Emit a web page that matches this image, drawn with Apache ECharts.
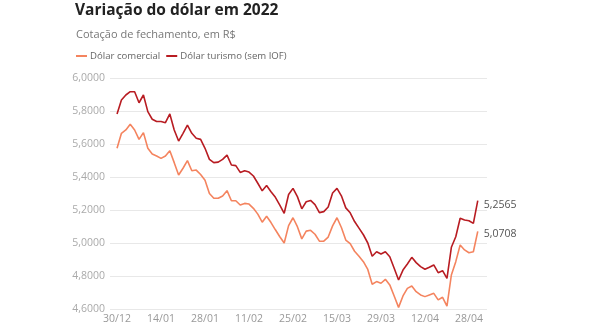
<!DOCTYPE html>
<html>
<head>
<meta charset="utf-8">
<script src="https://cdn.jsdelivr.net/npm/echarts@6/dist/echarts.min.js"></script>
<style>
html,body{margin:0;padding:0;background:#fff;}
#chart{width:590px;height:330px;}
</style>
</head>
<body>
<div id="chart"></div>
<script>
const dates = [
  '30/12',
  '03/01','04/01','05/01','06/01','07/01','10/01','11/01','12/01','13/01','14/01',
  '17/01','18/01','19/01','20/01','21/01','24/01','25/01','26/01','27/01','28/01',
  '31/01','01/02','02/02','03/02','04/02','07/02','08/02','09/02','10/02','11/02',
  '14/02','15/02','16/02','17/02','18/02','21/02','22/02','23/02','24/02','25/02',
  '02/03','03/03','04/03','07/03','08/03','09/03','10/03','11/03','14/03','15/03',
  '16/03','17/03','18/03','21/03','22/03','23/03','24/03','25/03','28/03','29/03',
  '30/03','31/03','01/04','04/04','05/04','06/04','07/04','08/04','11/04','12/04',
  '13/04','14/04','18/04','19/04','20/04','22/04','25/04','26/04','27/04','28/04',
  '29/04','02/05'
];
const tickLabels = ['30/12','14/01','28/01','11/02','25/02','15/03','29/03','12/04','28/04'];

const comercial = [
  5.574,
  5.665,5.685,5.719,5.685,5.628,5.669,5.574,5.539,5.527,5.513,
  5.527,5.559,5.487,5.412,5.453,5.499,5.438,5.442,5.415,5.380,
  5.300,5.271,5.271,5.285,5.317,5.256,5.256,5.230,5.240,5.236,
  5.210,5.175,5.126,5.162,5.124,5.080,5.038,5.000,5.105,5.153,
  5.099,5.025,5.072,5.077,5.053,5.011,5.011,5.036,5.104,5.153,
  5.094,5.018,4.996,4.950,4.920,4.887,4.840,4.750,4.766,4.756,
  4.780,4.746,4.679,4.610,4.679,4.725,4.739,4.705,4.685,4.675,
  4.685,4.695,4.655,4.671,4.618,4.806,4.887,4.988,4.958,4.941,
  4.947,5.0708
];
const turismo = [
  5.782,
  5.867,5.897,5.917,5.917,5.850,5.897,5.796,5.750,5.736,5.736,
  5.729,5.782,5.685,5.618,5.665,5.715,5.665,5.635,5.628,5.574,
  5.507,5.487,5.490,5.507,5.533,5.473,5.469,5.428,5.438,5.430,
  5.406,5.362,5.316,5.348,5.311,5.277,5.230,5.180,5.294,5.331,
  5.281,5.207,5.250,5.258,5.233,5.184,5.190,5.218,5.303,5.331,
  5.286,5.213,5.183,5.130,5.090,5.050,5.000,4.920,4.947,4.933,
  4.947,4.917,4.847,4.776,4.836,4.873,4.913,4.881,4.857,4.841,
  4.853,4.867,4.820,4.832,4.786,4.974,5.038,5.150,5.139,5.135,
  5.119,5.2565
];

const FONT = '"Open Sans", sans-serif';
const fmt = v => v.toFixed(4).replace('.', ',');
const tickIdx = tickLabels.map(t => dates.indexOf(t));

const chart = echarts.init(document.getElementById('chart'), null, {renderer: 'canvas'});
chart.setOption({
  animation: false,
  backgroundColor: '#fff',
  title: [
    {text: 'Variação do dólar em 2022', left: 75, top: 3, padding: 0,
     textStyle: {fontFamily: FONT, fontSize: 15.5, fontWeight: 'bold', color: '#222'}},
    {text: 'Cotação de fechamento, em R$', left: 76, top: 29, padding: 0,
     textStyle: {fontFamily: FONT, fontSize: 11, fontWeight: 'normal', color: '#777'}}
  ],
  legend: {
    left: 76, top: 51, padding: 0,
    icon: 'rect', itemWidth: 11, itemHeight: 2, itemGap: 6,
    textStyle: {fontFamily: FONT, fontSize: 9.6, color: '#666', padding: [0, 0, 0, -2]},
    data: ['Dólar comercial', 'Dólar turismo (sem IOF)']
  },
  grid: {left: 110, right: 103, top: 78, bottom: 21},
  xAxis: {
    type: 'value', min: -1.6, max: 84.1,
    axisLine: {show: false}, axisTick: {show: false}, splitLine: {show: false},
    axisLabel: {
      customValues: tickIdx,
      formatter: v => dates[Math.round(v)],
      fontFamily: FONT, fontSize: 10.5, color: '#999', margin: 5
    }
  },
  yAxis: {
    type: 'value', min: 4.6, max: 6.0, interval: 0.2,
    axisLine: {show: false}, axisTick: {show: false},
    splitLine: {lineStyle: {color: '#e8e8e8', width: 1}},
    axisLabel: {formatter: v => fmt(v), fontFamily: FONT, fontSize: 10.5, color: '#aaa', margin: 5}
  },
  series: [
    {
      name: 'Dólar comercial', type: 'line', showSymbol: false, symbol: 'none',
      data: comercial.map((v, i) => [i, v]),
      lineStyle: {color: '#f4845f', width: 1.6}, itemStyle: {color: '#f4845f'},
      endLabel: {show: true, formatter: p => fmt(p.value[1]), fontFamily: FONT, fontSize: 10.5, color: '#555', distance: 6, offset: [0, 3]}
    },
    {
      name: 'Dólar turismo (sem IOF)', type: 'line', showSymbol: false, symbol: 'none',
      data: turismo.map((v, i) => [i, v]),
      lineStyle: {color: '#b81c22', width: 1.6}, itemStyle: {color: '#b81c22'},
      endLabel: {show: true, formatter: p => fmt(p.value[1]), fontFamily: FONT, fontSize: 10.5, color: '#555', distance: 6, offset: [0, 4]}
    }
  ]
});
</script>
</body>
</html>
